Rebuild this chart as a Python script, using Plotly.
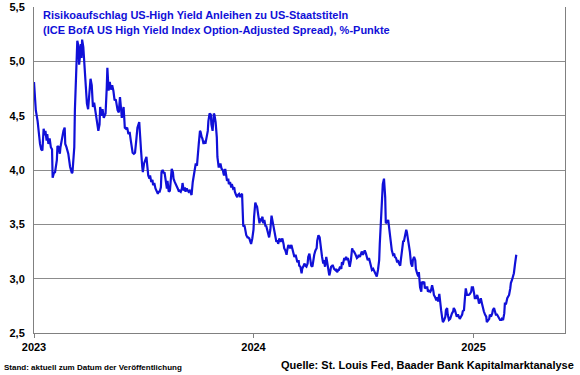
import pandas as pd
import plotly.graph_objects as go

# Data: days since 2023-01-01 and spread in %-points
base_date = "2023-01-01"
tage = [
0,2,3,6,8,10,12,14,16,18,19,21,22,24,26,28,30,31,33,35,38,39,41,43,44,47,49,51,52,54,57,60,63,64,67,68,69,71,72,74,75,77,78,79,80,82,84,85,88,90,92,94,96,98,100,102,104,107,109,110,113,114,116,119,121,122,124,126,128,130,132,134,136,139,141,143,145,146,149,151,153,155,157,
159,161,164,166,168,170,172,175,176,178,180,181,183,185,187,188,190,192,193,195,197,198,200,202,204,206,207,209,211,212,214,216,217,219,221,222,224,226,227,229,231,232,234,237,239,241,242,244,246,247,249,251,252,254,256,257,259,261,262,264,266,267,269,271,272,274,276,277,279,280,282,284,285,287,289,290,292,294,295,297,299,300,302,304,305,307,309,310,312,314,315,
316,318,319,321,323,324,326,328,329,331,333,334,336,338,339,341,343,344,346,347,348,350,351,353,355,356,358,360,361,363,365,366,368,370,371,373,375,376,378,380,381,383,385,386,388,390,391,393,395,396,398,400,401,403,405,406,408,410,411,413,415,416,418,420,421,423,425,426,428,430,431,433,435,436,438,440,441,443,445,446,448,450,451,453,455,456,458,460,461,463,465,466,468,470,471,473,475,
476,477,479,481,482,484,486,487,489,491,492,494,496,497,499,501,502,504,506,507,509,511,512,514,516,517,519,521,522,524,525,527,529,530,532,534,535,537,539,540,542,544,545,547,549,550,552,554,555,557,559,560,562,564,565,567,569,570,572,574,575,577,579,580,582,584,585,587,589,590,592,594,595,597,599,600,602,604,605,607,609,610,612,614,615,617,619,620,622,624,625,627,629,630,632,
634,635,637,639,640,642,644,645,647,649,650,652,654,655,657,659,660,662,664,665,667,669,670,672,674,675,677,679,680,682,684,685,687,688,690,692,693,695,697,698,700,702,703,705,707,708,710,712,713,715,717,718,720,722,723,725,727,728,730,732,733,735,737,738,740,742,743,745,747,748,750,752,753,755,757,758,760,762,763,765,767,768,770,772,773,775,777,778,780,782,783,785,787,788,790,792,793,795,797,798,800,802,
]
spread = [
4.81,4.67,4.55,4.45,4.33,4.24,4.19,4.18,4.38,4.32,4.36,4.27,4.33,4.24,4.29,4.21,4.19,3.93,3.97,3.98,4.09,4.22,4.21,4.15,4.21,4.32,4.36,4.39,4.24,4.21,4.15,4.03,3.97,3.98,4.21,4.55,4.76,5.03,5.19,5.14,4.97,5.07,5.16,5.03,5.20,5.13,4.97,4.82,4.61,4.56,4.67,4.84,4.78,4.58,4.62,4.55,4.44,4.36,4.42,4.58,4.50,4.56,4.48,4.52,4.76,4.94,4.73,4.81,4.74,4.78,4.73,4.64,4.65,4.55,4.53,4.67,4.55,4.48,4.58,4.39,4.38,4.39,4.33,
4.35,4.27,4.16,4.15,4.16,4.27,4.39,4.44,4.33,4.18,4.03,3.98,4.06,4.10,4.12,4.06,3.95,3.92,3.95,3.89,3.91,3.86,3.88,3.83,3.81,3.78,3.80,3.80,3.84,3.98,4.00,3.97,3.98,3.90,3.83,3.90,3.80,3.81,3.90,4.01,3.98,3.92,3.89,3.86,3.83,3.80,3.81,3.80,3.83,3.88,3.81,3.84,3.80,3.83,3.81,3.80,3.81,3.78,3.77,3.89,3.95,3.98,4.06,4.04,4.09,4.24,4.36,4.35,4.30,4.29,4.24,4.27,4.24,4.29,4.36,4.45,4.52,4.51,4.42,4.36,4.52,4.51,4.44,4.30,4.12,4.03,4.03,4.06,4.01,4.00,3.97,
3.95,4.01,3.97,3.90,3.92,3.87,3.89,3.84,3.87,3.83,3.84,3.80,3.77,3.75,3.77,3.78,3.75,3.77,3.78,3.61,3.48,3.49,3.46,3.40,3.38,3.38,3.37,3.34,3.32,3.37,3.45,3.57,3.70,3.67,3.66,3.58,3.51,3.55,3.54,3.57,3.51,3.54,3.48,3.49,3.45,3.40,3.38,3.45,3.58,3.55,3.48,3.45,3.41,3.34,3.35,3.32,3.37,3.34,3.35,3.37,3.32,3.28,3.26,3.22,3.26,3.31,3.29,3.28,3.31,3.26,3.23,3.20,3.22,3.20,3.15,3.17,3.12,3.11,3.05,3.09,3.11,3.14,3.12,3.11,3.14,3.20,3.23,3.17,3.12,3.11,3.19,3.22,3.26,3.28,3.35,3.40,3.38,
3.32,3.25,3.20,3.14,3.17,3.11,3.20,3.17,3.11,3.03,3.05,3.11,3.12,3.12,3.09,3.08,3.09,3.06,3.08,3.08,3.11,3.09,3.15,3.14,3.19,3.17,3.20,3.17,3.19,3.15,3.11,3.17,3.28,3.26,3.25,3.23,3.22,3.19,3.20,3.22,3.20,3.23,3.25,3.22,3.25,3.26,3.23,3.19,3.17,3.19,3.14,3.11,3.08,3.09,3.08,3.06,3.03,3.02,3.08,3.17,3.32,3.51,3.72,3.87,3.92,3.75,3.51,3.52,3.54,3.49,3.38,3.29,3.26,3.22,3.23,3.20,3.19,3.15,3.17,3.14,3.12,3.17,3.29,3.35,3.34,3.40,3.45,3.43,3.35,3.32,3.25,3.14,3.11,3.17,3.20,
3.17,3.09,3.05,3.02,3.06,2.92,2.88,2.97,2.96,2.97,2.91,2.92,2.92,2.88,2.89,2.88,2.89,2.94,2.89,2.85,2.83,2.80,2.83,2.79,2.86,2.79,2.71,2.63,2.60,2.62,2.65,2.71,2.73,2.67,2.62,2.63,2.65,2.68,2.70,2.73,2.71,2.67,2.65,2.67,2.65,2.63,2.65,2.67,2.70,2.71,2.85,2.91,2.85,2.85,2.85,2.86,2.88,2.92,2.92,2.86,2.82,2.82,2.85,2.83,2.77,2.80,2.82,2.77,2.71,2.70,2.67,2.65,2.60,2.62,2.63,2.67,2.65,2.68,2.71,2.73,2.70,2.67,2.67,2.65,2.63,2.62,2.62,2.63,2.62,2.68,2.77,2.77,2.82,2.83,2.85,2.91,2.96,2.99,3.03,3.05,3.14,3.22,
]

year_ticks = ["2023-01-01", "2024-01-01", "2025-01-01"]
year_labels = ["2023", "2024", "2025"]
y_ticks = [2.5, 3.0, 3.5, 4.0, 4.5, 5.0, 5.5]

dates = pd.Timestamp(base_date) + pd.to_timedelta(tage, unit="D")

FONT = "Liberation Sans, Arial, sans-serif"
BLUE = "#1010D8"

fig = go.Figure()
fig.add_trace(go.Scatter(x=dates, y=spread, mode="lines",
                         line=dict(color=BLUE, width=2.2), hoverinfo="skip"))

fig.update_layout(
    width=580, height=375,
    margin=dict(l=34, r=15, t=7, b=42),
    paper_bgcolor="white", plot_bgcolor="white",
    showlegend=False,
    separators=",.",
    font=dict(family=FONT, color="black"),
    xaxis=dict(
        type="date", automargin=False,
        range=["2023-01-01", "2025-06-02"],
        tickvals=year_ticks, ticktext=year_labels,
        showgrid=False, zeroline=False,
        showline=True, linecolor="#808080", linewidth=1,
        ticks="outside", ticklen=4, tickcolor="#808080",
        tickfont=dict(family=FONT, size=11, color="black", weight="bold"),
    ),
    yaxis=dict(
        range=[2.5, 5.5], automargin=False,
        tickvals=y_ticks, tickformat=".1f",
        showgrid=True, gridcolor="#8c8c8c", gridwidth=1,
        zeroline=False,
        showline=True, mirror=True, linecolor="#808080", linewidth=1,
        ticks="", ticklabelstandoff=6,
        tickfont=dict(family=FONT, size=11, color="black", weight="bold"),
    ),
)

fig.add_annotation(xref="paper", yref="paper", x=0.013, y=0.975,
                   xanchor="left", yanchor="middle", showarrow=False,
                   text="Risikoaufschlag US-High Yield Anleihen zu US-Staatstiteln",
                   font=dict(family=FONT, size=11, color=BLUE, weight="bold"))
fig.add_annotation(xref="paper", yref="paper", x=0.013, y=0.929,
                   xanchor="left", yanchor="middle", showarrow=False,
                   text="(ICE BofA US High Yield Index Option-Adjusted Spread), %-Punkte",
                   font=dict(family=FONT, size=11, color=BLUE, weight="bold"))
fig.add_annotation(xref="paper", yref="paper", x=-0.0603, y=-0.107,
                   xanchor="left", yanchor="middle", showarrow=False,
                   text="Stand: aktuell zum Datum der Veröffentlichung",
                   font=dict(family=FONT, size=8, color="black", weight="bold"))
fig.add_annotation(xref="paper", yref="paper", x=1.0207, y=-0.098,
                   xanchor="right", yanchor="middle", showarrow=False,
                   text="Quelle: St. Louis Fed, Baader Bank Kapitalmarktanalyse",
                   font=dict(family=FONT, size=11, color="black", weight="bold"))

# remove the browser's default 8px body margin so the figure sits at (0, 0)
fig.write_html("out.html", config={"displayModeBar": False},
               post_script="document.body.style.margin='0';")
